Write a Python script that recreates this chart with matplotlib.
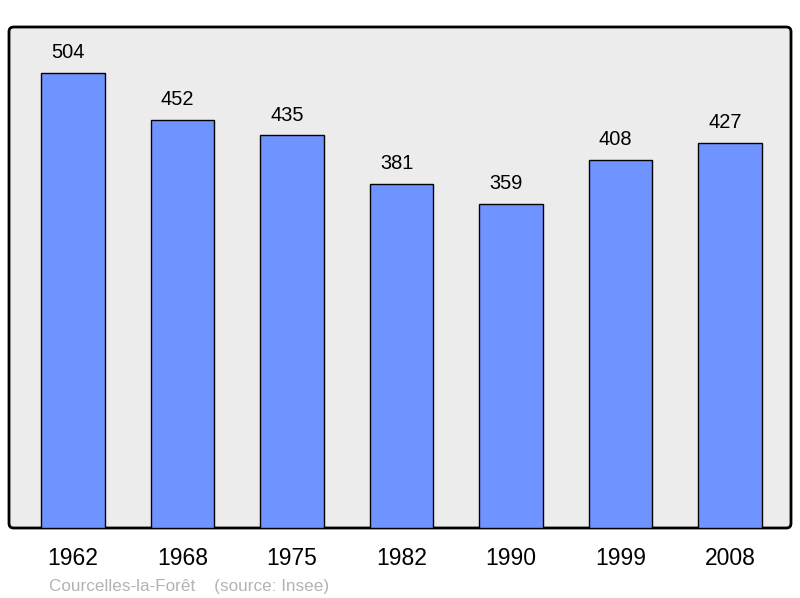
import matplotlib
matplotlib.use("Agg")
import matplotlib.pyplot as plt
from matplotlib.patches import FancyBboxPatch

years = ["1962", "1968", "1975", "1982", "1990", "1999", "2008"]
population = [504, 452, 435, 381, 359, 408, 427]
title_text = "Courcelles-la-Forêt    (source: Insee)"

plt.rcParams['font.family'] = ['Liberation Sans', 'DejaVu Sans']

W, H = 800, 598
fig = plt.figure(figsize=(W / 100, H / 100), dpi=100)
left, right, top, bottom = 9, 791, 27, 528
ax = fig.add_axes([left / W, (H - bottom) / H, (right - left) / W, (bottom - top) / H])
ax.set_facecolor("none")

x = list(range(len(years)))
ax.bar(x, population, width=0.58, color="#7094ff", edgecolor="black", linewidth=1.0, zorder=2)

for xi, v in zip(x, population):
    ax.annotate(str(v), (xi, v), xytext=(-3.6, 10.5), textcoords="offset points",
                ha="center", va="baseline", fontsize=14.4, color="black")

ax.set_xlim(-0.5845, 6.557)
ax.set_ylim(0, 555)
ax.set_yticks([])
ax.set_xticks(x)
ax.set_xticklabels(years, fontsize=16.5)
ax.tick_params(axis="x", length=0, pad=14)
for s in ax.spines.values():
    s.set_visible(False)

frame = FancyBboxPatch((0, 0), 1, 1, boxstyle="round,pad=0,rounding_size=0.006",
                       transform=ax.transAxes, facecolor="#ececec", edgecolor="black",
                       linewidth=2, zorder=0, clip_on=False, mutation_aspect=782/501)
ax.add_patch(frame)

fig.text(49 / W, 1 - 590.5 / H, title_text, fontsize=12.3, color="#b3b3b3",
         ha="left", va="baseline")

fig.savefig("out.png", dpi=100)
